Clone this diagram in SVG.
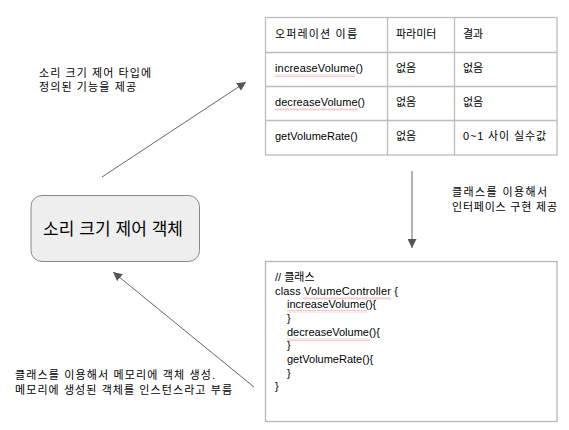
<svg xmlns="http://www.w3.org/2000/svg" width="569" height="430" viewBox="0 0 569 430">
<defs>
<style>
.t{font-family:"Liberation Sans","Noto Sans CJK KR",sans-serif;font-size:11px;fill:#000}
.big{font-family:"Liberation Sans","Noto Sans CJK KR",sans-serif;font-size:17px;fill:#000}
.grid{stroke:#bdbdbd;stroke-width:1.3;fill:none}
.conn{stroke:#666;stroke-width:1;fill:none;marker-end:url(#ah)}
.wv{fill:url(#wave)}
</style>
<marker id="ah" viewBox="0 0 10 10" refX="10" refY="5" markerWidth="9" markerHeight="9" markerUnits="userSpaceOnUse" orient="auto">
<path d="M0,0 L10,5 L0,10 z" fill="#555"/>
</marker>
<pattern id="wave" width="4" height="3" patternUnits="userSpaceOnUse">
<polyline points="0,2.5 1,0.5 2,2.5 3,0.5 4,2.5" fill="none" stroke="#e06060" stroke-width="0.6" stroke-opacity="0.55"/>
</pattern>
</defs>
<rect width="569" height="430" fill="#fff"/>

<g id="table">
<rect class="grid" x="265.5" y="17.5" width="291.5" height="137.5"/>
<line class="grid" x1="387.5" y1="17.5" x2="387.5" y2="155"/>
<line class="grid" x1="454.5" y1="17.5" x2="454.5" y2="155"/>
<line class="grid" x1="265.5" y1="52.5" x2="557" y2="52.5"/>
<line class="grid" x1="265.5" y1="86.5" x2="557" y2="86.5"/>
<line class="grid" x1="265.5" y1="120.5" x2="557" y2="120.5"/>
<text class="t" x="275" y="38" textLength="82" lengthAdjust="spacing">오퍼레이션 이름</text>
<text class="t" x="396" y="38">파라미터</text>
<text class="t" x="463" y="38">결과</text>
<text class="t" x="275" y="72" textLength="88" lengthAdjust="spacing">increaseVolume()</text>
<text class="t" x="396" y="72">없음</text>
<text class="t" x="463" y="72">없음</text>
<text class="t" x="275" y="106" textLength="90" lengthAdjust="spacing">decreaseVolume()</text>
<text class="t" x="396" y="106">없음</text>
<text class="t" x="463" y="106">없음</text>
<text class="t" x="275" y="140">getVolumeRate()</text>
<text class="t" x="396" y="140">없음</text>
<text class="t" x="463" y="140" textLength="83" lengthAdjust="spacing">0~1 사이 실수값</text>
<rect class="wv" x="275" y="74" width="80" height="3"/>
<rect class="wv" x="275" y="108" width="83" height="3"/>
</g>

<g id="code">
<rect x="265.5" y="261.5" width="291.5" height="160" fill="#fff" stroke="#b5b5b5" stroke-width="1.3"/>
<text class="t" x="275" y="281">// 클래스</text>
<text class="t" x="275" y="295" textLength="123" lengthAdjust="spacing">class VolumeController {</text>
<text class="t" x="287" y="308">increaseVolume(){</text>
<text class="t" x="287" y="322">}</text>
<text class="t" x="287" y="336">decreaseVolume(){</text>
<text class="t" x="287" y="349">}</text>
<text class="t" x="287" y="363">getVolumeRate(){</text>
<text class="t" x="287" y="377">}</text>
<text class="t" x="275" y="390">}</text>
<rect class="wv" x="303" y="297" width="88" height="3"/>
<rect class="wv" x="287" y="310" width="80" height="3"/>
<rect class="wv" x="287" y="338" width="83" height="3"/>
</g>

<g id="object">
<rect x="31" y="195.5" width="168.5" height="66" rx="11" ry="11" fill="#eeeeee" stroke="#888" stroke-width="1"/>
<text class="big" x="43" y="235" textLength="140" lengthAdjust="spacing">소리 크기 제어 객체</text>
</g>

<g id="connectors">
<line class="conn" x1="102" y1="177" x2="246" y2="82"/>
<line class="conn" x1="412" y1="171" x2="412" y2="248"/>
<line class="conn" x1="254" y1="387" x2="113" y2="272"/>
</g>

<g id="labels">
<text class="t" x="39" y="77" textLength="112" lengthAdjust="spacing">소리 크기 제어 타입에</text>
<text class="t" x="39" y="91" textLength="97" lengthAdjust="spacing">정의된 기능을 제공</text>
<text class="t" x="452" y="196" textLength="95" lengthAdjust="spacing">클래스를 이용해서</text>
<text class="t" x="452" y="211" textLength="105" lengthAdjust="spacing">인터페이스 구현 제공</text>
<text class="t" x="15" y="379" textLength="200" lengthAdjust="spacing">클래스를 이용해서 메모리에 객체 생성.</text>
<text class="t" x="15" y="394" textLength="217" lengthAdjust="spacing">메모리에 생성된 객체를 인스턴스라고 부름</text>
</g>
</svg>
